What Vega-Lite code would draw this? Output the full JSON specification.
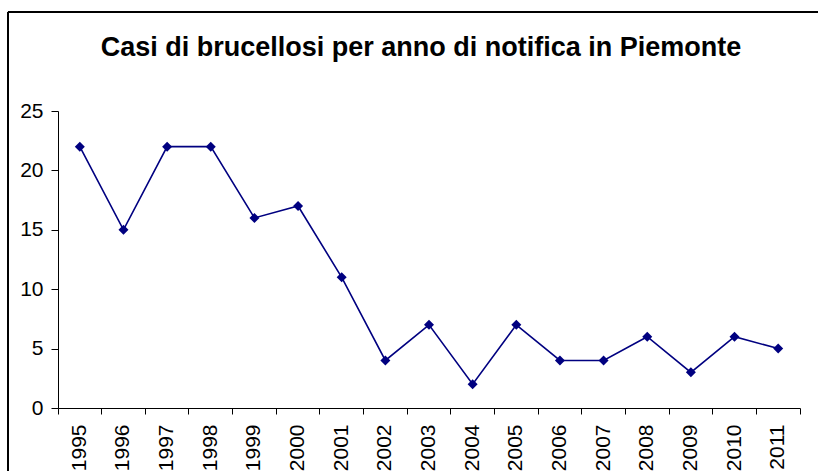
{
  "$schema": "https://vega.github.io/schema/vega-lite/v6.json",
  "autosize": "none",
  "width": 742,
  "height": 297,
  "padding": {"left": 58, "top": 111, "right": 18, "bottom": 63},
  "background": "white",
  "config": {
    "view": {"stroke": null},
    "font": "Liberation Sans",
    "axis": {"labelFont": "Liberation Sans", "labelColor": "black", "domainColor": "black", "tickColor": "black", "grid": false, "title": null}
  },
  "title": {
    "text": "Casi di brucellosi per anno di notifica in Piemonte",
    "font": "Liberation Sans",
    "fontSize": 27,
    "fontWeight": "bold",
    "color": "black",
    "anchor": "middle",
    "frame": "group",
    "baseline": "alphabetic",
    "offset": -71,
    "dx": -8
  },
  "data": {
    "values": [
      {"anno": "1995", "casi": 22},
      {"anno": "1996", "casi": 15},
      {"anno": "1997", "casi": 22},
      {"anno": "1998", "casi": 22},
      {"anno": "1999", "casi": 16},
      {"anno": "2000", "casi": 17},
      {"anno": "2001", "casi": 11},
      {"anno": "2002", "casi": 4},
      {"anno": "2003", "casi": 7},
      {"anno": "2004", "casi": 2},
      {"anno": "2005", "casi": 7},
      {"anno": "2006", "casi": 4},
      {"anno": "2007", "casi": 4},
      {"anno": "2008", "casi": 6},
      {"anno": "2009", "casi": 3},
      {"anno": "2010", "casi": 6},
      {"anno": "2011", "casi": 5}
    ]
  },
  "layer": [
    {
      "layer": [
        {"mark": {"type": "line", "color": "#000080", "strokeWidth": 1.6}},
        {"mark": {"type": "point", "shape": "diamond", "filled": true, "color": "#000080", "size": 100, "opacity": 1}}
      ],
      "encoding": {
        "x": {
          "field": "anno",
          "type": "ordinal",
          "scale": {"type": "band", "paddingInner": 0, "paddingOuter": 0},
          "axis": {"labelAngle": -90, "labelFontSize": 21, "tickSize": 6, "labelPadding": 10, "bandPosition": 1, "tickExtra": true, "labelBaseline": "middle", "labelAlign": "right"}
        },
        "y": {
          "field": "casi",
          "type": "quantitative",
          "scale": {"domain": [0, 25], "nice": false, "zero": true},
          "axis": {"values": [0, 5, 10, 15, 20, 25], "labelFontSize": 21, "tickSize": 7, "labelPadding": 8}
        }
      }
    },
    {
      "mark": {"type": "rule", "color": "black", "strokeWidth": 1, "clip": false},
      "encoding": {
        "x": {"datum": -0.0674, "type": "quantitative", "scale": {"domain": [0, 1]}, "axis": null},
        "y": {"datum": 33.33, "type": "quantitative"},
        "y2": {"datum": -10}
      }
    },
    {
      "mark": {"type": "rule", "color": "black", "strokeWidth": 1, "clip": false},
      "encoding": {
        "x": {"datum": -0.0674, "type": "quantitative", "scale": {"domain": [0, 1]}, "axis": null},
        "x2": {"datum": 1.2},
        "y": {"datum": 33.33, "type": "quantitative"}
      }
    }
  ],
  "resolve": {"scale": {"x": "independent"}}
}
